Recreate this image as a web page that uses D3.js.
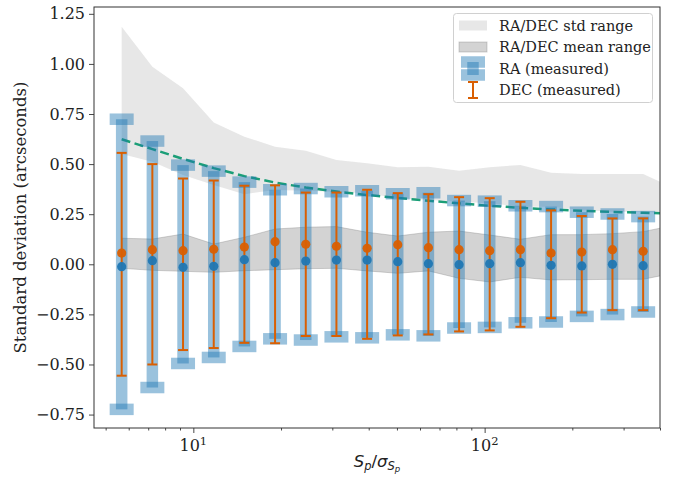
<!DOCTYPE html>
<html>
<head>
<meta charset="utf-8">
<script src="https://cdn.jsdelivr.net/npm/d3@7/dist/d3.min.js"></script>
<style>
  html, body { margin: 0; padding: 0; background: #fff; }
  svg { display: block; }
  text { font-family: "DejaVu Serif", serif; fill: #222; }
</style>
</head>
<body>
<svg id="chart" width="674" height="477"></svg>
<script>
// ---- data ----
const snr = [5.675, 7.233, 9.218, 11.75, 14.97, 19.08, 24.32, 30.99, 39.50, 50.32, 64.12, 81.72, 104.1, 132.7, 169.1, 215.5, 274.7, 350.1];
const bandX = [5.675, 7.233, 9.218, 11.75, 14.97, 19.08, 24.32, 30.99, 39.50, 50.32, 64.12, 81.72, 104.1, 132.7, 169.1, 215.5, 274.7, 350.1, 446.2];
const raStd = [0.724, 0.615, 0.495, 0.465, 0.41, 0.372, 0.378, 0.362, 0.367, 0.352, 0.357, 0.318, 0.315, 0.292, 0.288, 0.26, 0.251, 0.238];
const decStd = [0.556, 0.50, 0.428, 0.418, 0.392, 0.394, 0.358, 0.358, 0.372, 0.355, 0.35, 0.335, 0.33, 0.312, 0.269, 0.241, 0.229, 0.229];
const raMean = [-0.012, 0.018, -0.015, -0.010, 0.023, 0.008, 0.016, 0.021, 0.021, 0.013, 0.003, -0.002, 0.003, 0.008, -0.005, -0.008, 0.0, -0.007];
const decMean = [0.056, 0.073, 0.068, 0.075, 0.086, 0.113, 0.1, 0.09, 0.08, 0.098, 0.083, 0.073, 0.068, 0.073, 0.056, 0.061, 0.073, 0.065];
const stdHigh = [1.186, 0.986, 0.878, 0.707, 0.637, 0.587, 0.567, 0.52, 0.504, 0.484, 0.487, 0.467, 0.484, 0.496, 0.457, 0.451, 0.451, 0.451, 0.38];
const stdLow = [0.55, 0.512, 0.446, 0.396, 0.35, 0.371, 0.367, 0.362, 0.354, 0.329, 0.321, 0.312, 0.304, 0.287, 0.287, 0.271, 0.262, 0.262, 0.25];
const meanHigh = [0.13, 0.126, 0.151, 0.101, 0.135, 0.176, 0.185, 0.188, 0.16, 0.141, 0.16, 0.166, 0.146, 0.125, 0.148, 0.148, 0.153, 0.163, 0.194];
const meanLow = [-0.02, -0.03, -0.035, -0.04, -0.032, -0.027, -0.022, -0.02, -0.033, -0.045, -0.033, -0.07, -0.088, -0.065, -0.078, -0.077, -0.075, -0.075, -0.044];
const modelLine = [0.624, 0.575, 0.526, 0.480, 0.440, 0.408, 0.383, 0.363, 0.346, 0.331, 0.317, 0.304, 0.292, 0.282, 0.274, 0.267, 0.261, 0.257, 0.253];
const yTicks = [-0.75, -0.5, -0.25, 0, 0.25, 0.5, 0.75, 1.0, 1.25];
const xMajorTicks = [10, 100];
const xMajorLabels = [["10", "1"], ["10", "2"]];
const xMinorTicks = [5, 6, 7, 8, 9, 20, 30, 40, 50, 60, 70, 80, 90, 200, 300, 400];
const legendLabels = ["RA/DEC std range", "RA/DEC mean range", "RA (measured)", "DEC (measured)"];
const yLabel = "Standard deviation (arcseconds)";

// ---- layout ----
const L = 94, R = 660, T = 7, B = 428;
const svg = d3.select("#chart");
const x = d3.scaleLog().domain([4.56, 400]).range([L, R]);
const y = d3.scaleLinear().domain([-0.817, 1.284]).range([B, T]);

const BLUE = "#1f77b4", ORANGE = "#d95f02", TEAL = "#1b9e77";

svg.append("defs").append("clipPath").attr("id", "clip")
  .append("rect").attr("x", L).attr("y", T).attr("width", R - L).attr("height", B - T);
const plot = svg.append("g").attr("clip-path", "url(#clip)");

// std band
const idx = d3.range(bandX.length);
plot.append("path")
  .attr("d", d3.area().x(i => x(bandX[i])).y0(i => y(stdLow[i])).y1(i => y(stdHigh[i]))(idx))
  .attr("fill", "#d3d3d3").attr("fill-opacity", 0.55);

// mean band
plot.append("path")
  .attr("d", d3.area().x(i => x(bandX[i])).y0(i => y(meanLow[i])).y1(i => y(meanHigh[i]))(idx))
  .attr("fill", "#808080").attr("fill-opacity", 0.35)
  .attr("stroke", "#808080").attr("stroke-opacity", 0.35).attr("stroke-width", 1);

// model dashed line
plot.append("path")
  .attr("d", d3.line().x(i => x(bandX[i])).y(i => y(modelLine[i]))(idx))
  .attr("fill", "none").attr("stroke", TEAL).attr("stroke-width", 2.5)
  .attr("stroke-dasharray", "9,4.5");

// RA errorbars (centered at 0, +/- std)
const pi = d3.range(snr.length);
const raBarW = 11.5, raCapW = 24, raCapH = 11.5, raAlpha = 0.45;
const ra = plot.append("g");
pi.forEach(i => {
  const cx = x(snr[i]);
  ra.append("rect").attr("x", cx - raBarW / 2).attr("y", y(raStd[i]))
    .attr("width", raBarW).attr("height", y(-raStd[i]) - y(raStd[i]))
    .attr("fill", BLUE).attr("fill-opacity", raAlpha);
  [raStd[i], -raStd[i]].forEach(v => {
    ra.append("rect").attr("x", cx - raCapW / 2).attr("y", y(v) - raCapH / 2)
      .attr("width", raCapW).attr("height", raCapH)
      .attr("fill", BLUE).attr("fill-opacity", raAlpha);
  });
});

// DEC errorbars
const dec = plot.append("g").attr("stroke", ORANGE).attr("stroke-width", 2);
pi.forEach(i => {
  const cx = x(snr[i]);
  dec.append("line").attr("x1", cx).attr("x2", cx).attr("y1", y(decStd[i])).attr("y2", y(-decStd[i]));
  [decStd[i], -decStd[i]].forEach(v => {
    dec.append("line").attr("x1", cx - 5).attr("x2", cx + 5).attr("y1", y(v)).attr("y2", y(v));
  });
});

// mean markers
plot.append("g").selectAll("circle").data(pi).join("circle")
  .attr("cx", i => x(snr[i])).attr("cy", i => y(raMean[i])).attr("r", 4.6)
  .attr("fill", BLUE).attr("fill-opacity", 0.95);
plot.append("g").selectAll("circle").data(pi).join("circle")
  .attr("cx", i => x(snr[i])).attr("cy", i => y(decMean[i])).attr("r", 4.6)
  .attr("fill", ORANGE).attr("fill-opacity", 0.95);

// ---- axes ----
const axisColor = "#333";
const yAxis = svg.append("g").attr("transform", `translate(${L},0)`)
  .call(d3.axisLeft(y).tickValues(yTicks).tickFormat(d3.format(".2f")).tickSize(5).tickPadding(4));
const xAxis = svg.append("g").attr("transform", `translate(0,${B})`)
  .call(d3.axisBottom(x).tickValues(xMajorTicks).tickFormat(() => "").tickSize(5).tickPadding(5));
const xMinor = svg.append("g").attr("transform", `translate(0,${B})`)
  .call(d3.axisBottom(x).tickValues(xMinorTicks).tickFormat(() => "").tickSize(2.5));
[yAxis, xAxis, xMinor].forEach(g => {
  g.select(".domain").remove();
  g.selectAll("line").attr("stroke", axisColor).attr("stroke-width", 0.9);
  g.selectAll("text").style("font-family", "DejaVu Serif").style("font-size", "16px").attr("fill", "#222");
});
// superscript major labels
xMajorTicks.forEach((t, k) => {
  const txt = svg.append("text").attr("x", x(t)).attr("y", 451)
    .attr("text-anchor", "middle").style("font-size", "16px");
  txt.append("tspan").text(xMajorLabels[k][0]);
  txt.append("tspan").attr("dy", -6).style("font-size", "11.5px").text(xMajorLabels[k][1]);
});

// frame
svg.append("rect").attr("x", L).attr("y", T).attr("width", R - L).attr("height", B - T)
  .attr("fill", "none").attr("stroke", axisColor).attr("stroke-width", 1);

// axis labels
svg.append("text").attr("transform", `translate(26,${(T + B) / 2}) rotate(-90)`)
  .attr("text-anchor", "middle").style("font-size", "16.5px").text(yLabel);
const xl = svg.append("text").attr("x", (L + R) / 2).attr("y", 467).attr("text-anchor", "middle")
  .style("font-family", "DejaVu Sans").style("font-style", "italic").style("font-size", "16.5px");
xl.append("tspan").text("S");
xl.append("tspan").attr("dy", 3).style("font-size", "11.5px").text("p");
xl.append("tspan").attr("dy", -3).style("font-style", "normal").text("/");
xl.append("tspan").text("σ");
xl.append("tspan").attr("dy", 3).style("font-size", "11.5px").text("S");
xl.append("tspan").attr("dy", 2).style("font-size", "8.5px").text("p");

// ---- legend ----
const lg = svg.append("g");
lg.append("rect").attr("x", 453.5).attr("y", 13.5).attr("width", 199).attr("height", 89).attr("rx", 3)
  .attr("fill", "#fff").attr("fill-opacity", 0.8).attr("stroke", "#d0d0d0");
const lx = 459, tx = 499, rowY = [25.5, 47, 68.5, 90];
lg.append("rect").attr("x", lx).attr("y", rowY[0] - 5).attr("width", 28).attr("height", 10)
  .attr("fill", "#d3d3d3").attr("fill-opacity", 0.55);
lg.append("rect").attr("x", lx).attr("y", rowY[1] - 5).attr("width", 28).attr("height", 10)
  .attr("fill", "#808080").attr("fill-opacity", 0.35).attr("stroke", "#808080").attr("stroke-opacity", 0.35);
const lcx = lx + 14;
lg.append("rect").attr("x", lcx - raBarW / 2).attr("y", rowY[2] - 6.5).attr("width", raBarW).attr("height", 13)
  .attr("fill", BLUE).attr("fill-opacity", raAlpha);
[rowY[2] - 6.5, rowY[2] + 6.5].forEach(cy => {
  lg.append("rect").attr("x", lcx - raCapW / 2).attr("y", cy - raCapH / 2).attr("width", raCapW).attr("height", raCapH)
    .attr("fill", BLUE).attr("fill-opacity", raAlpha);
});
const ld = lg.append("g").attr("stroke", ORANGE).attr("stroke-width", 2);
ld.append("line").attr("x1", lcx).attr("x2", lcx).attr("y1", rowY[3] - 8).attr("y2", rowY[3] + 8);
ld.append("line").attr("x1", lcx - 5).attr("x2", lcx + 5).attr("y1", rowY[3] - 8).attr("y2", rowY[3] - 8);
ld.append("line").attr("x1", lcx - 5).attr("x2", lcx + 5).attr("y1", rowY[3] + 8).attr("y2", rowY[3] + 8);
legendLabels.forEach((t, k) => {
  lg.append("text").attr("x", tx).attr("y", rowY[k]).attr("dy", "0.35em")
    .style("font-size", "14.5px").text(t);
});
</script>
</body>
</html>
